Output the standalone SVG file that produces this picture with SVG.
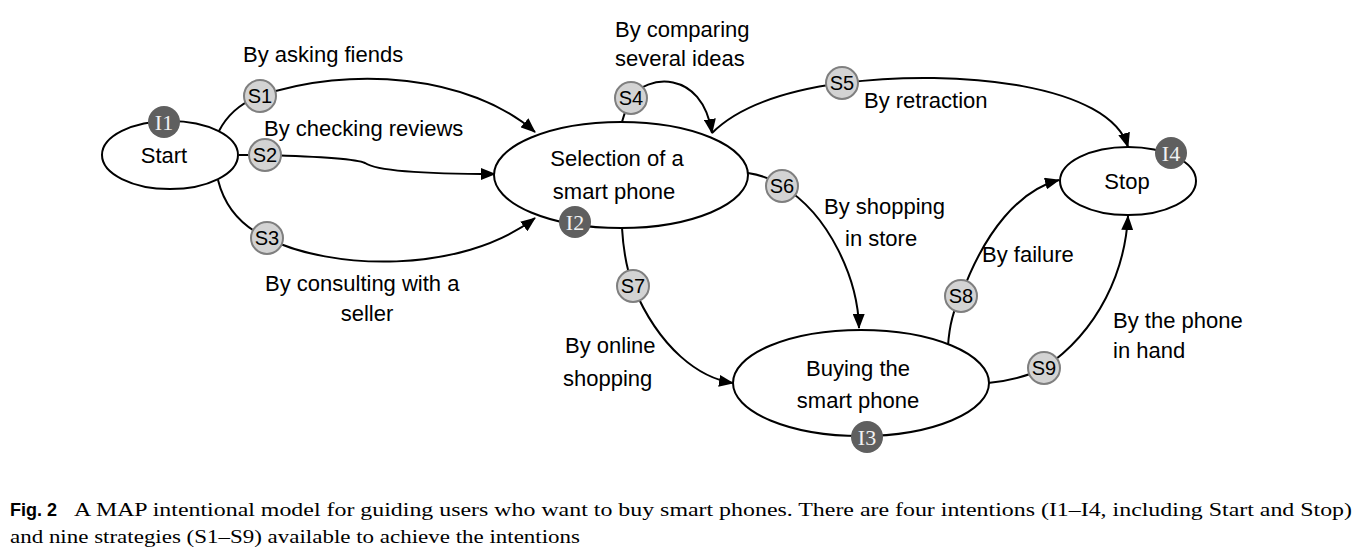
<svg xmlns="http://www.w3.org/2000/svg" width="1363" height="557" viewBox="0 0 1363 557">
<defs>
<marker id="arr" markerWidth="15" markerHeight="12" refX="14" refY="6" orient="auto" markerUnits="userSpaceOnUse">
<path d="M0,0 L15,6 L0,12 z" fill="#000"/>
</marker>
</defs>
<style>
.ell{fill:#fff;stroke:#000;stroke-width:2}
.edge{fill:none;stroke:#000;stroke-width:2}
.s{fill:#d3d3d3;stroke:#7f7f7f;stroke-width:2}
.i{fill:#5f5f5f}
.lbl{font-family:"Liberation Sans",Arial,sans-serif;font-size:22px;fill:#000}
.st{font-family:"Liberation Sans",Arial,sans-serif;font-size:20px;fill:#000;text-anchor:middle}
.it{font-family:"Liberation Serif","Times New Roman",serif;font-size:22px;fill:#f2f2f2;text-anchor:middle}
.node{font-family:"Liberation Sans",Arial,sans-serif;font-size:22px;fill:#000;text-anchor:middle}
.cap{font-family:"Liberation Serif","Times New Roman",serif;font-size:19px;fill:#000}
.capb{font-family:"Liberation Sans",Arial,sans-serif;font-size:18px;font-weight:bold;fill:#000}
</style>
<rect width="1363" height="557" fill="#fff"/>
<g id="connectors">
<path class="edge" d="M219,131 Q232,106 260,96 C350,65 470,75 535,132" marker-end="url(#arr)"/>
<path class="edge" d="M239,155 L265,155 C300,156 355,158 365,163 C375,170 420,174 495,174" marker-end="url(#arr)"/>
<path class="edge" d="M218,180 Q228,220 267,238 C330,270 460,275 535,218" marker-end="url(#arr)"/>
<path class="edge" d="M622,122 Q626,108 631,98 C645,75 702,68 712,133" marker-end="url(#arr)"/>
<path class="edge" d="M712,133 C740,105 790,90 842,83 C960,68 1110,85 1128,147" marker-end="url(#arr)"/>
<path class="edge" d="M748,173 Q768,176 782,186 C830,215 858,280 859,328" marker-end="url(#arr)"/>
<path class="edge" d="M622,228 Q624,262 633,286 C660,350 700,378 733,383" marker-end="url(#arr)"/>
<path class="edge" d="M948,346 Q950,315 961,296 C985,230 1020,190 1059,180" marker-end="url(#arr)"/>
<path class="edge" d="M988,383 Q1020,380 1044,368 C1100,330 1125,270 1128,216" marker-end="url(#arr)"/>
</g>
<g id="I1-start">
<ellipse class="ell" cx="170" cy="155" rx="68" ry="34"/>
<text class="node" x="164" y="163">Start</text>
<circle class="i" cx="164" cy="122" r="16"/>
<text class="it" x="164" y="130">I1</text>
</g>
<g id="I2-selection">
<ellipse class="ell" cx="621" cy="175" rx="127" ry="53"/>
<text class="node" x="617" y="166">Selection of a</text>
<text class="node" x="614" y="199">smart phone</text>
<circle class="i" cx="575" cy="222" r="16"/>
<text class="it" x="575" y="230">I2</text>
</g>
<g id="I3-buying">
<ellipse class="ell" cx="861" cy="383" rx="128" ry="53"/>
<text class="node" x="858" y="376">Buying the</text>
<text class="node" x="858" y="408">smart phone</text>
<circle class="i" cx="867" cy="437" r="16"/>
<text class="it" x="867" y="445">I3</text>
</g>
<g id="I4-stop">
<ellipse class="ell" cx="1128" cy="181" rx="68" ry="34"/>
<text class="node" x="1127" y="189">Stop</text>
<circle class="i" cx="1171" cy="153" r="16"/>
<text class="it" x="1171" y="161">I4</text>
</g>
<g id="S1"><circle class="s" cx="260" cy="96" r="16"/><text class="st" x="260" y="103">S1</text></g>
<g id="S2"><circle class="s" cx="265" cy="155" r="16"/><text class="st" x="265" y="162">S2</text></g>
<g id="S3"><circle class="s" cx="267" cy="238" r="16"/><text class="st" x="267" y="245">S3</text></g>
<g id="S4"><circle class="s" cx="631" cy="98" r="16"/><text class="st" x="631" y="105">S4</text></g>
<g id="S5"><circle class="s" cx="842" cy="83" r="16"/><text class="st" x="842" y="90">S5</text></g>
<g id="S6"><circle class="s" cx="782" cy="186" r="16"/><text class="st" x="782" y="193">S6</text></g>
<g id="S7"><circle class="s" cx="633" cy="286" r="16"/><text class="st" x="633" y="293">S7</text></g>
<g id="S8"><circle class="s" cx="961" cy="296" r="16"/><text class="st" x="961" y="303">S8</text></g>
<g id="S9"><circle class="s" cx="1044" cy="368" r="16"/><text class="st" x="1044" y="375">S9</text></g>
<g id="labels">
<text class="lbl" x="243" y="62">By asking fiends</text>
<text class="lbl" x="264" y="136">By checking reviews</text>
<text class="lbl" x="265" y="291">By consulting with a</text>
<text class="lbl" x="367" y="321" text-anchor="middle">seller</text>
<text class="lbl" x="615" y="37">By comparing</text>
<text class="lbl" x="615" y="66">several ideas</text>
<text class="lbl" x="864" y="108">By retraction</text>
<text class="lbl" x="824" y="214">By shopping</text>
<text class="lbl" x="845" y="246">in store</text>
<text class="lbl" x="565" y="353">By online</text>
<text class="lbl" x="563" y="386">shopping</text>
<text class="lbl" x="982" y="262">By failure</text>
<text class="lbl" x="1113" y="328">By the phone</text>
<text class="lbl" x="1113" y="358">in hand</text>
</g>
<g id="caption">
<text class="capb" x="10" y="516">Fig. 2</text>
<text class="cap" x="74" y="516" textLength="1278" lengthAdjust="spacingAndGlyphs">A MAP intentional model for guiding users who want to buy smart phones. There are four intentions (I1–I4, including Start and Stop)</text>
<text class="cap" x="10" y="543" textLength="570" lengthAdjust="spacingAndGlyphs">and nine strategies (S1–S9) available to achieve the intentions</text>
</g>
</svg>
